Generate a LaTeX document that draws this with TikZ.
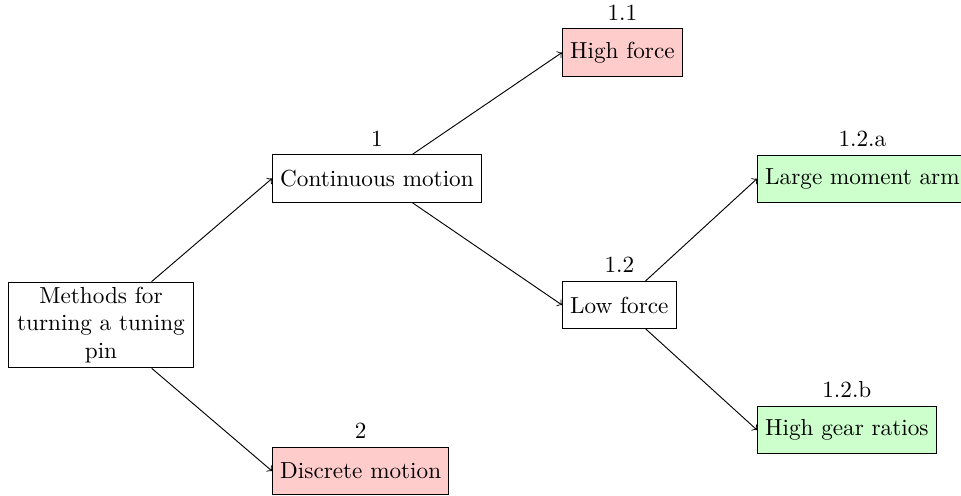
\documentclass[tikz,border=0pt]{standalone}
\begin{document}
\begin{tikzpicture}[x=0.431pt,y=-0.431pt,
  box/.style={draw, fill=white, minimum height=20.3pt, inner ysep=2pt, anchor=west},
  redbox/.style={box, fill=red!20},
  greenbox/.style={box, fill=green!20},
  conn/.style={->}]
\useasboundingbox (0,0) rectangle (961,495);
\node[draw, text width=73pt, align=center, inner ysep=2pt] (M) at (101,325) {Methods for\\turning a tuning\\pin};
\node[box, label=above:1] (C) at (272,178.5) {Continuous motion};
\node[redbox, label=above:2] (D) at (272,471) {Discrete motion};
\node[redbox, label=above:1.1] (H) at (562,52.5) {High force};
\node[box, label=above:1.2] (L) at (562,305) {Low force};
\node[greenbox, label=above:1.2.a] (A) at (757,178.7) {Large moment arm};
\node[greenbox, label=above:1.2.b] (G) at (757,430) {High gear ratios};
\draw[conn] (M) -- (C.west);
\draw[conn] (M) -- (D.west);
\draw[conn] (C) -- (H.west);
\draw[conn] (C) -- (L.west);
\draw[conn] (L) -- (A.west);
\draw[conn] (L) -- (G.west);
\end{tikzpicture}
\end{document}
